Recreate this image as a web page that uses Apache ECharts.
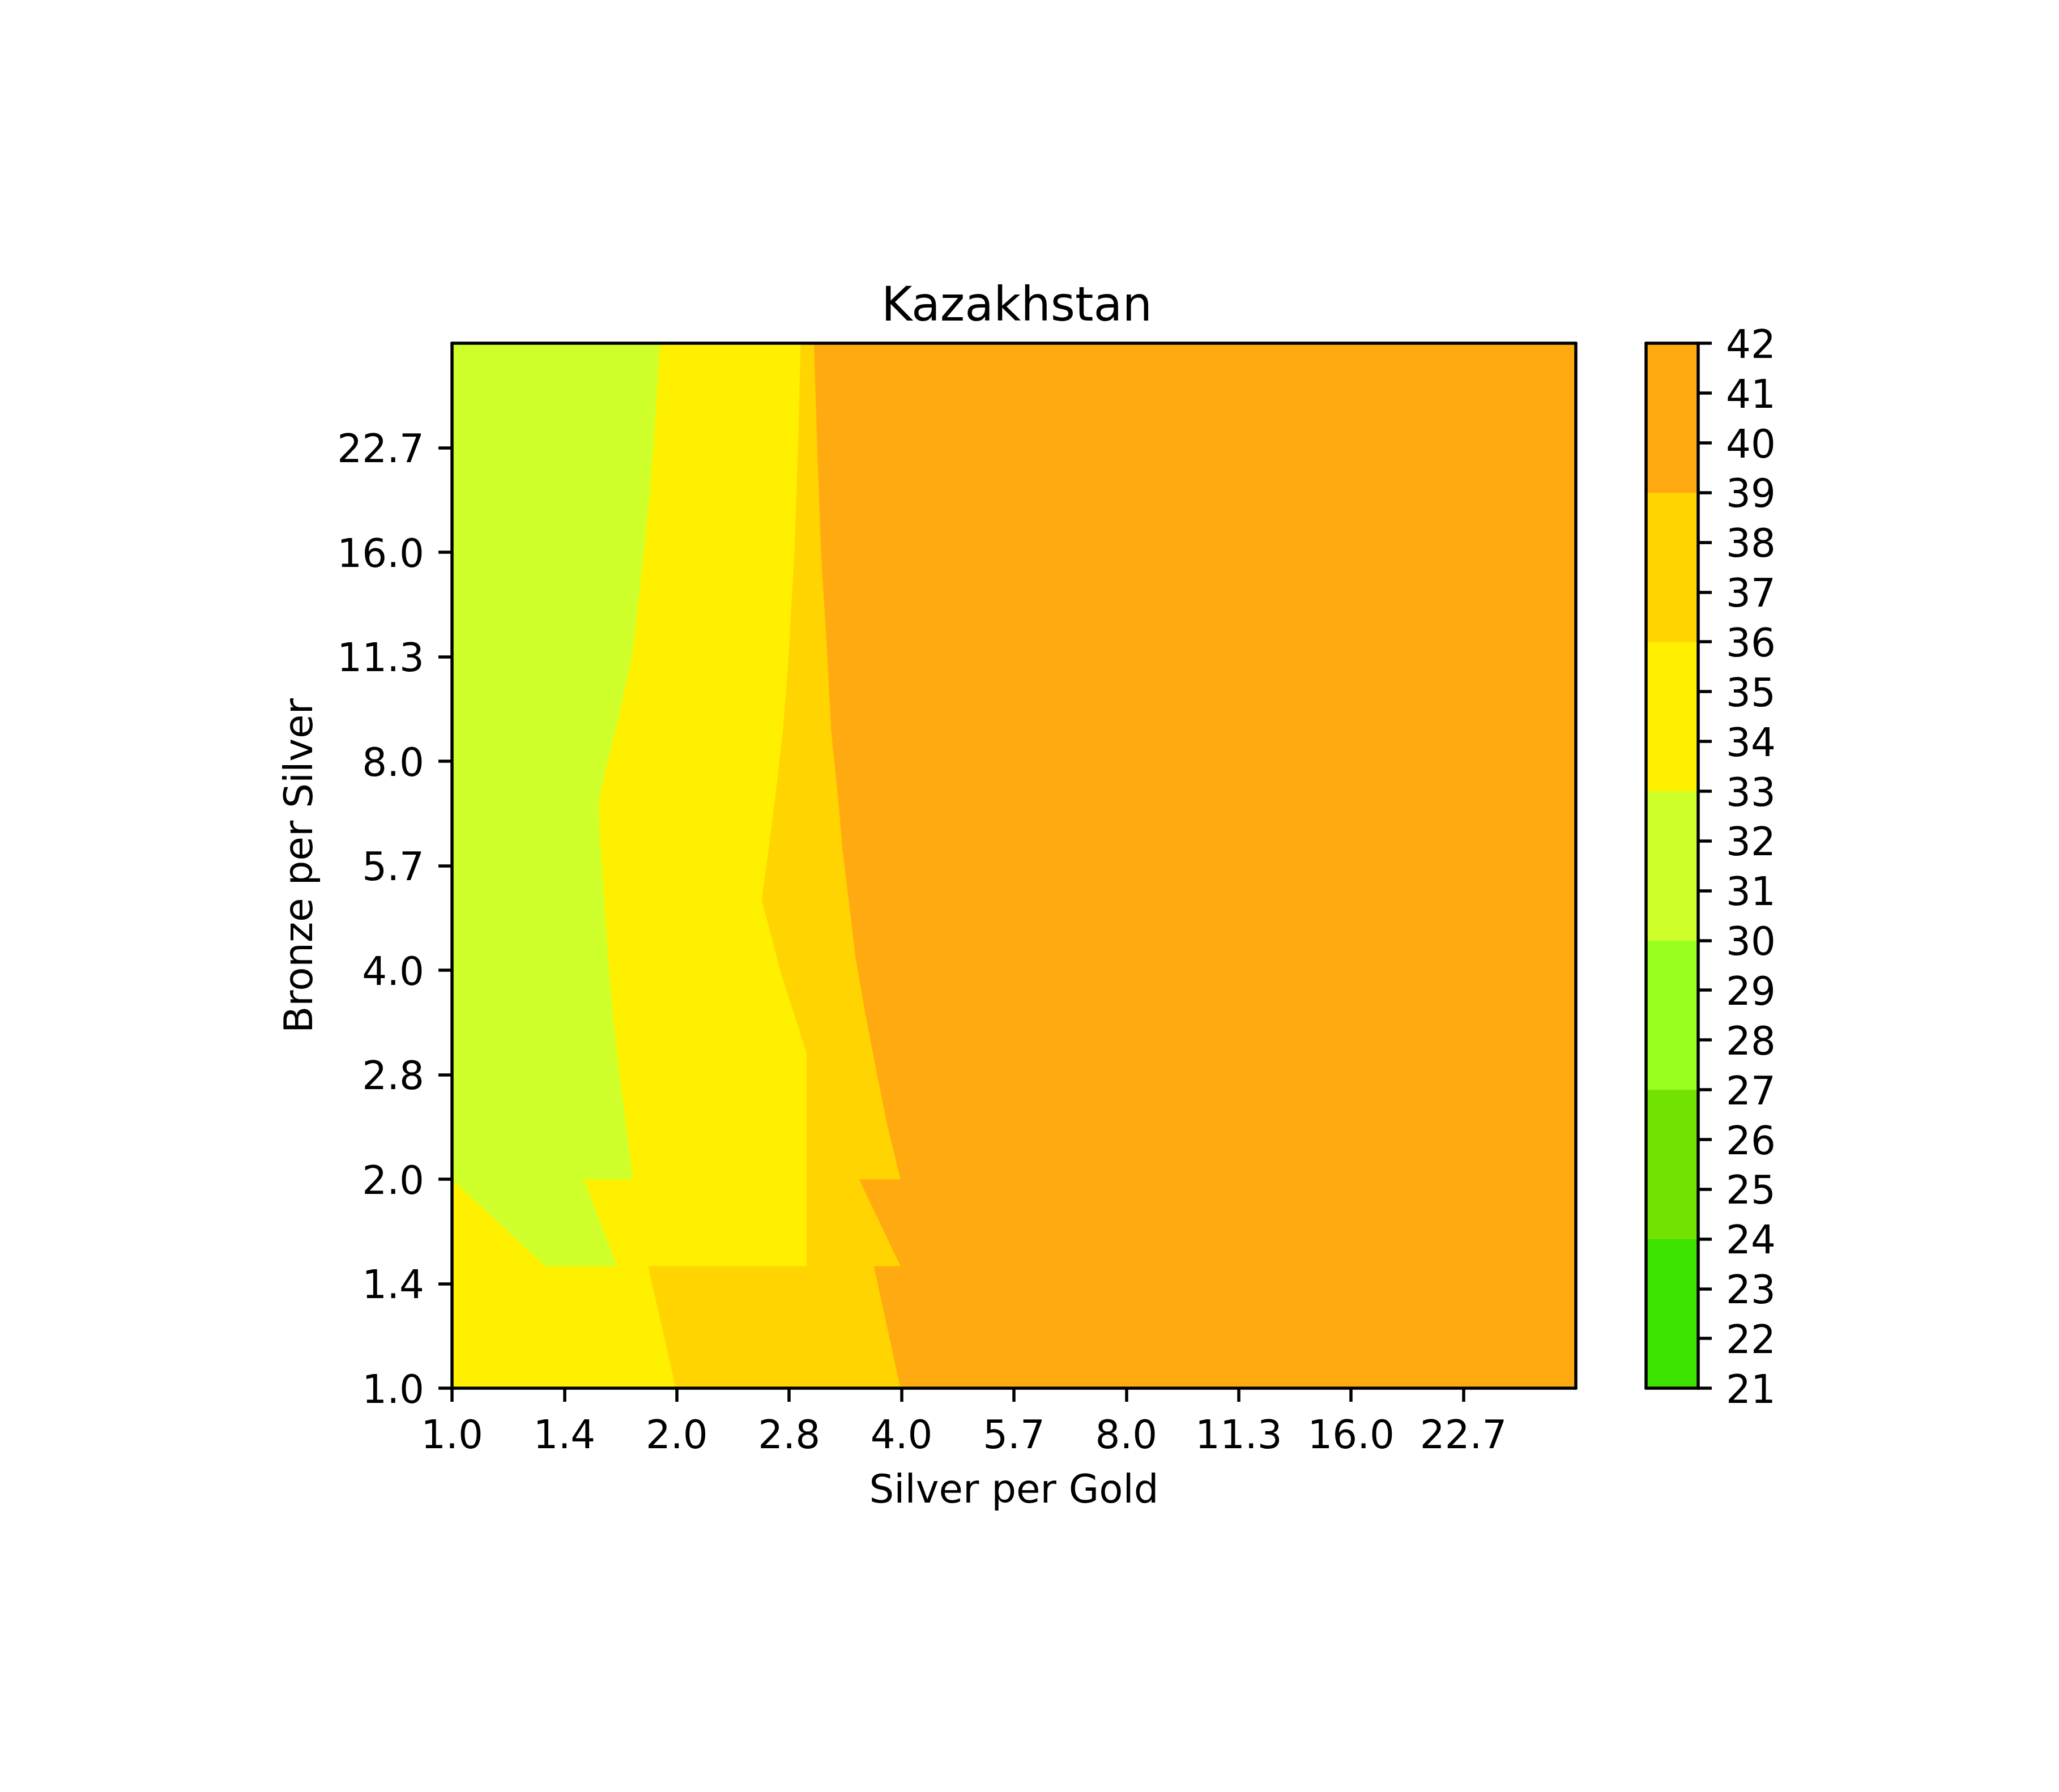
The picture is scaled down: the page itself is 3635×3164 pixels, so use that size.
<!DOCTYPE html>
<html><head><meta charset="utf-8">
<script src="https://cdn.jsdelivr.net/npm/echarts@6/dist/echarts.min.js"></script>
<style>html,body{margin:0;padding:0;background:#fff}#c{width:3635px;height:3164px}</style>
</head><body><div id="c"></div>
<script>
// ---------------- data ----------------
const chartTitle = 'Kazakhstan';
const xName = 'Silver per Gold';
const yName = 'Bronze per Silver';
const ratioMin = 1, ratioMax = 32;
const tickRatios = [1, 1.4142, 2, 2.8284, 4, 5.6569, 8, 11.3137, 16, 22.6274];
const tickLabels = ['1.0', '1.4', '2.0', '2.8', '4.0', '5.7', '8.0', '11.3', '16.0', '22.7'];
const levels = [21, 24, 27, 30, 33, 36, 39, 42];
const levelColors = ['#3CE400', '#72E200', '#98FF1E', '#CEFF2A', '#FFF000', '#FFD400', '#FFAA11'];
// contour outlines, points as [silver per gold, bronze per silver]
// closed outline of the 30–33 area
const area30to33 = [[1, 32], [1.897, 32], [1.860, 22.8], [1.835, 19.1], [1.804, 16], [1.774, 13.55], [1.742, 11.35],
  [1.660, 9.0], [1.613, 7.94], [1.598, 7.62], [1.571, 7.0], [1.578, 6.17], [1.587, 5.64], [1.602, 4.81],
  [1.621, 4.0], [1.645, 3.35], [1.674, 2.82], [1.695, 2.56], [1.745, 2.0], [1.5, 2.0], [1.662, 1.5],
  [1.333, 1.5], [1, 2.0]];
// boundary 36 (33–36 on the left, 36–39 on the right), top to bottom
const edge36 = [[2.928, 32], [2.905, 22.8], [2.873, 16], [2.821, 11.35], [2.774, 8.88], [2.704, 7.0], [2.634, 5.64],
  [2.596, 5.05], [2.673, 4.5], [2.747, 4.0], [2.877, 3.43], [2.984, 3.03], [2.984, 1.5], [1.829, 1.5], [1.992, 1]];
// boundary 39 (36–39 on the left, 39–42 on the right), top to bottom
const edge39 = [[3.051, 32], [3.081, 22.8], [3.118, 16], [3.179, 11.35], [3.216, 8.88], [3.290, 7.0], [3.332, 5.96],
  [3.469, 4.17], [3.571, 3.48], [3.687, 2.91], [3.829, 2.38], [3.983, 2.0], [3.506, 2.0], [3.983, 1.5],
  [3.669, 1.5], [3.983, 1]];

// ---------------- build ----------------
const toIdx = r => 2 * Math.log2(r);   // half-octave steps on the log2 axis
const idxMax = toIdx(ratioMax);
const tickIdx = tickRatios.map(toIdx);
const regions = [
  { band: 6, pts: [[ratioMin, ratioMin], [ratioMin, ratioMax], [ratioMax, ratioMax], [ratioMax, ratioMin]] },
  { band: 5, pts: [[ratioMin, ratioMax]].concat(edge39, [[ratioMin, ratioMin]]) },
  { band: 4, pts: [[ratioMin, ratioMax]].concat(edge36, [[ratioMin, ratioMin]]) },
  { band: 3, pts: area30to33 }
];
const FONT = 'DejaVu Sans';
const LW = 5.5;
const lblFmt = v => { const i = Math.round(v); return tickLabels[i] !== undefined ? tickLabels[i] : ''; };
const shifted = s => s === '' ? '' : '{p|' + s + '}';
const richShift = { p: { padding: [16, 0, 0, 0], fontFamily: FONT, fontSize: 69, color: '#000' } };
const lineOnly = (extra) => Object.assign({
  type: 'value', z: 5, axisLine: { show: true, onZero: false, lineStyle: { color: '#000', width: LW } },
  axisTick: { show: false }, axisLabel: { show: false }, splitLine: { show: false }
}, extra);

const chart = echarts.init(document.getElementById('c'), null, { renderer: 'canvas' });
chart.setOption({
  animation: false,
  backgroundColor: '#fff',
  title: {
    text: chartTitle, left: 1790, top: 498, textAlign: 'center',
    textStyle: { fontFamily: FONT, fontSize: 83, fontWeight: 'normal', color: '#000' }
  },
  grid: [
    { left: 798, top: 606, width: 1984, height: 1845 },
    { left: 2906, top: 606, width: 92, height: 1845 }
  ],
  xAxis: [
    {
      type: 'value', gridIndex: 0, min: 0, max: idxMax, position: 'bottom', z: 5,
      axisLine: { show: true, onZero: false, lineStyle: { color: '#000', width: LW } },
      axisTick: { show: true, inside: false, length: 24, lineStyle: { color: '#000', width: LW }, customValues: tickIdx },
      axisLabel: { customValues: tickIdx, formatter: lblFmt, margin: 54, fontFamily: FONT, fontSize: 69, color: '#000' },
      splitLine: { show: false },
      name: xName, nameLocation: 'middle', nameGap: 150,
      nameTextStyle: { fontFamily: FONT, fontSize: 69, color: '#000' }
    },
    lineOnly({ gridIndex: 0, min: 0, max: idxMax, position: 'top' }),
    lineOnly({ gridIndex: 1, min: 0, max: 1, position: 'bottom' }),
    lineOnly({ gridIndex: 1, min: 0, max: 1, position: 'top' })
  ],
  yAxis: [
    {
      type: 'value', gridIndex: 0, min: 0, max: idxMax, position: 'left', z: 5,
      axisLine: { show: true, onZero: false, lineStyle: { color: '#000', width: LW } },
      axisTick: { show: true, inside: false, length: 24, lineStyle: { color: '#000', width: LW }, customValues: tickIdx },
      axisLabel: { customValues: tickIdx, formatter: v => shifted(lblFmt(v)), rich: richShift, margin: 49, fontFamily: FONT, fontSize: 69, color: '#000' },
      splitLine: { show: false },
      name: yName, nameLocation: 'middle', nameRotate: 90, nameGap: 230,
      nameTextStyle: { fontFamily: FONT, fontSize: 69, color: '#000' }
    },
    lineOnly({ gridIndex: 0, min: 0, max: idxMax, position: 'right' }),
    {
      type: 'value', gridIndex: 1, min: levels[0], max: levels[levels.length - 1], interval: 1, position: 'right', z: 5,
      axisLine: { show: true, onZero: false, lineStyle: { color: '#000', width: LW } },
      axisTick: { show: true, inside: false, length: 24, lineStyle: { color: '#000', width: LW } },
      axisLabel: { formatter: v => shifted(String(v)), rich: richShift, margin: 49, fontFamily: FONT, fontSize: 69, color: '#000' },
      splitLine: { show: false }
    },
    lineOnly({ gridIndex: 1, min: levels[0], max: levels[levels.length - 1], position: 'left' })
  ],
  series: [
    {
      type: 'custom', xAxisIndex: 0, yAxisIndex: 0, z: 2, clip: true,
      data: regions.map((r, i) => [i]),
      renderItem: (params, api) => {
        const r = regions[params.dataIndex];
        const c = levelColors[r.band];
        return {
          type: 'polygon',
          shape: { points: r.pts.map(p => api.coord([toIdx(p[0]), toIdx(p[1])])) },
          style: { fill: c, stroke: c, lineWidth: 1 }
        };
      }
    },
    {
      type: 'custom', xAxisIndex: 2, yAxisIndex: 2, z: 2,
      data: levelColors.map((c, i) => [0.5, (levels[i] + levels[i + 1]) / 2]),
      renderItem: (params, api) => {
        const i = params.dataIndex;
        const a = api.coord([0, levels[i]]), b = api.coord([1, levels[i + 1]]);
        return {
          type: 'rect',
          shape: { x: a[0], y: b[1], width: b[0] - a[0], height: a[1] - b[1] },
          style: { fill: levelColors[i], stroke: levelColors[i], lineWidth: 1 }
        };
      }
    }
  ]
});
</script></body></html>
